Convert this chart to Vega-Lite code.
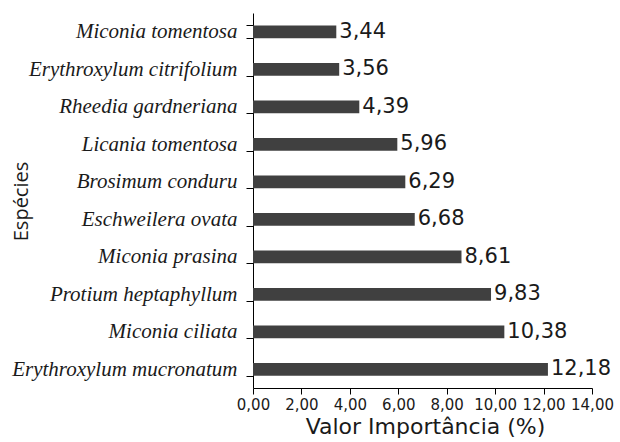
{
  "$schema": "https://vega.github.io/schema/vega-lite/v6.json",
  "autosize": {"type": "none"},
  "padding": {"left": 253, "top": 13, "right": 28, "bottom": 54},
  "width": 339,
  "height": 375,
  "background": "white",
  "config": {
    "locale": {"number": {"decimal": ",", "thousands": ".", "grouping": [3], "currency": ["R$", ""]}},
    "view": {"stroke": null},
    "axis": {"domainColor": "#000000", "tickColor": "#000000", "grid": false}
  },
  "data": {
    "values": [
      {"especie": "Miconia tomentosa", "valor": 3.44},
      {"especie": "Erythroxylum citrifolium", "valor": 3.56},
      {"especie": "Rheedia gardneriana", "valor": 4.39},
      {"especie": "Licania tomentosa", "valor": 5.96},
      {"especie": "Brosimum conduru", "valor": 6.29},
      {"especie": "Eschweilera ovata", "valor": 6.68},
      {"especie": "Miconia prasina", "valor": 8.61},
      {"especie": "Protium heptaphyllum", "valor": 9.83},
      {"especie": "Miconia ciliata", "valor": 10.38},
      {"especie": "Erythroxylum mucronatum", "valor": 12.18}
    ]
  },
  "encoding": {
    "y": {
      "field": "especie",
      "type": "nominal",
      "sort": {"field": "valor", "order": "ascending"},
      "scale": {"paddingInner": 0.66, "paddingOuter": 0.33},
      "axis": {
        "title": "Espécies",
        "titleFont": "Open Sans",
        "titleFontSize": 20,
        "titleFontWeight": "normal",
        "titleColor": "#1a1a1a",
        "titleAngle": -90,
        "titleX": -232,
        "titleY": 188,
        "titleAlign": "center",
        "titleBaseline": "middle",
        "labelFont": "Liberation Serif",
        "labelFontStyle": "italic",
        "labelFontSize": 21,
        "labelColor": "#1a1a1a",
        "labelPadding": 9,
        "labelLimit": 300,
        "tickBand": "extent",
        "tickSize": 7,
        "domainWidth": 1,
        "tickWidth": 1
      }
    },
    "x": {
      "field": "valor",
      "type": "quantitative",
      "scale": {"domain": [0, 14], "nice": false},
      "axis": {
        "title": "Valor Importância (%)",
        "titleFont": "DejaVu Sans",
        "titleFontSize": 22,
        "titleFontWeight": "normal",
        "titleColor": "#1a1a1a",
        "titlePadding": 4,
        "titleX": 172,
        "values": [0, 2, 4, 6, 8, 10, 12, 14],
        "format": ".2f",
        "labelFont": "DejaVu Sans",
        "labelFontSize": 15,
        "labelColor": "#1a1a1a",
        "labelPadding": 3,
        "labelFlush": false,
        "labelOverlap": false,
        "tickSize": 6,
        "domainWidth": 1,
        "tickWidth": 1
      }
    }
  },
  "layer": [
    {"mark": {"type": "bar", "color": "#404040"}},
    {
      "mark": {"type": "text", "align": "left", "baseline": "middle", "dx": 3, "font": "DejaVu Sans", "fontSize": 21, "color": "#1a1a1a"},
      "encoding": {"text": {"field": "valor", "type": "quantitative", "format": ".2f"}}
    }
  ]
}
